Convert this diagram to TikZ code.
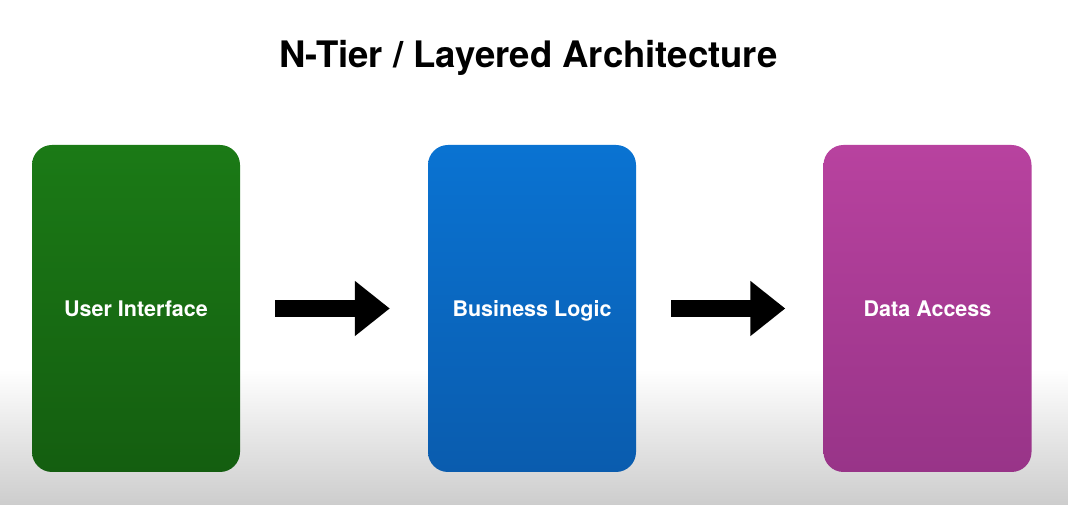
\documentclass[tikz,border=0pt]{standalone}
\usepackage{fontspec}
\setmainfont{TeX Gyre Heros}
\usetikzlibrary{arrows.meta}
\definecolor{uitop}{HTML}{1B7A16}
\definecolor{uibot}{HTML}{145E10}
\definecolor{bltop}{HTML}{0A73D2}
\definecolor{blbot}{HTML}{0A5CAE}
\definecolor{datop}{HTML}{B8429F}
\definecolor{dabot}{HTML}{983488}
\definecolor{floor}{HTML}{CDCDCD}
\tikzset{
  tier/.style={draw=none, rounded corners=20pt, minimum width=208pt,
    minimum height=327pt, inner sep=0pt, text=white, text height=15.5pt,
    text depth=0pt, font=\bfseries\fontsize{21.5}{26}\selectfont},
  bigarrow/.style={line width=17pt, -{Triangle[length=35pt,width=53pt]}}
}
\begin{document}
\begin{tikzpicture}[x=1pt, y=1pt]
  \useasboundingbox (0,0) rectangle (1068,505);
  \fill[white] (0,135) rectangle (1068,505);
  \shade[top color=white, bottom color=floor] (0,0) rectangle (1068,136);
  \node[font=\bfseries\fontsize{36.5}{42}\selectfont] (title) at (528.5,447) {N-Tier / Layered Architecture};
  \node[tier, top color=uitop, middle color=uitop, bottom color=uibot] (ui) at (136,196.5) {User Interface};
  \node[tier, top color=bltop, middle color=bltop, bottom color=blbot] (bl) at (532,196.5) {Business Logic};
  \node[tier, top color=datop, middle color=datop, bottom color=dabot] (da) at (927.5,196.5) {Data Access};
  \foreach \a/\b in {ui/bl, bl/da}
    \draw[bigarrow] ([xshift=35pt]\a.east) -- ([xshift=-38pt]\b.west);
\end{tikzpicture}
\end{document}
